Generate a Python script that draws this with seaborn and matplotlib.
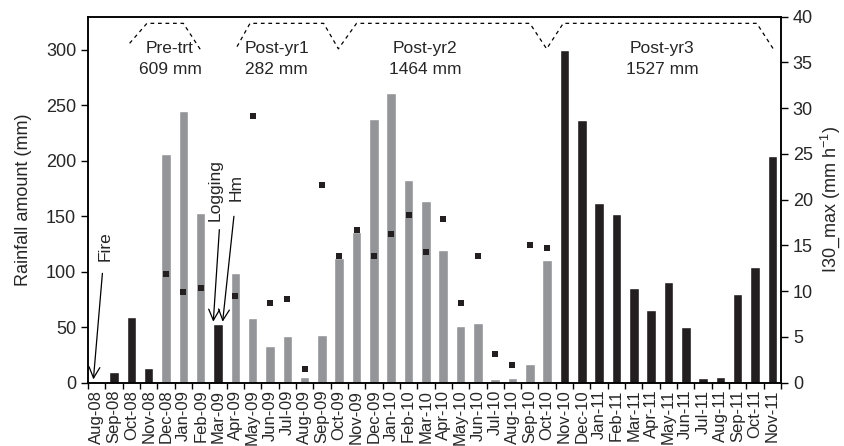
import matplotlib
matplotlib.use("Agg")
import matplotlib.pyplot as plt
import numpy as np
import pandas as pd
import seaborn as sns

# Monthly data, Aug-08 .. Nov-11
months = ['Aug-08', 'Sep-08', 'Oct-08', 'Nov-08', 'Dec-08', 'Jan-09', 'Feb-09', 'Mar-09',
          'Apr-09', 'May-09', 'Jun-09', 'Jul-09', 'Aug-09', 'Sep-09', 'Oct-09', 'Nov-09',
          'Dec-09', 'Jan-10', 'Feb-10', 'Mar-10', 'Apr-10', 'May-10', 'Jun-10', 'Jul-10',
          'Aug-10', 'Sep-10', 'Oct-10', 'Nov-10', 'Dec-10', 'Jan-11', 'Feb-11', 'Mar-11',
          'Apr-11', 'May-11', 'Jun-11', 'Jul-11', 'Aug-11', 'Sep-11', 'Oct-11', 'Nov-11']
rainfall = [0, 10, 59, 13, 206, 245, 153, 53,
            99, 58, 33, 42, 5, 43, 112, 136,
            238, 261, 183, 164, 120, 51, 54, 3,
            4, 17, 111, 300, 237, 162, 152, 85,
            66, 91, 50, 4, 5, 80, 104, 204]
# bar shading: 'd' = dark bars, 'g' = grey bars
shade = ['d', 'd', 'd', 'd', 'g', 'g', 'g', 'd',
         'g', 'g', 'g', 'g', 'g', 'g', 'g', 'g',
         'g', 'g', 'g', 'g', 'g', 'g', 'g', 'g',
         'g', 'g', 'g', 'd', 'd', 'd', 'd', 'd',
         'd', 'd', 'd', 'd', 'd', 'd', 'd', 'd']
nan = np.nan
i30_max = [nan, nan, nan, nan, 11.9, 9.9, 10.4, nan,
           9.5, 29.1, 8.7, 9.1, 1.5, 21.6, 13.9, 16.7,
           13.9, 16.3, 18.3, 14.3, 17.9, 8.7, 13.9, 3.1,
           1.9, 15.1, 14.7, nan, nan, nan, nan, nan,
           nan, nan, nan, nan, nan, nan, nan, nan]

periods = ['Pre-trt\n609 mm', 'Post-yr1\n282 mm', 'Post-yr2\n1464 mm', 'Post-yr3\n1527 mm']

df = pd.DataFrame({'month': months, 'rain': rainfall, 'shade': shade, 'i30': i30_max})
df['pos'] = np.arange(len(df))

sns.set_style('ticks')
plt.rcParams['font.family'] = ['Liberation Sans', 'DejaVu Sans']
plt.rcParams['mathtext.fontset'] = 'custom'
plt.rcParams['mathtext.rm'] = 'Liberation Sans'
plt.rcParams['mathtext.default'] = 'regular'

dark = '#231f20'
grey = '#939598'

fig = plt.figure(figsize=(8.44, 4.46), dpi=100)
ax = fig.add_axes([0.1043, 0.1419, 0.8211, 0.8207])

sns.barplot(data=df, x='month', y='rain', hue='shade', palette={'d': dark, 'g': grey},
            dodge=False, width=0.55, legend=False, ax=ax, saturation=1)

ax2 = ax.twinx()
sns.scatterplot(data=df, x='pos', y='i30', marker='s', color=dark, s=24,
                edgecolor=dark, linewidth=0, ax=ax2, zorder=5)

ax.set_xlim(-0.5, len(months) - 0.5)
ax.set_ylim(0, 330)
ax2.set_ylim(0, 40)
ax.set_yticks(range(0, 301, 50))
ax2.set_yticks(range(0, 41, 5))

# month labels centred, tick marks between bars
ax.set_xticks(df['pos'])
ax.set_xticklabels(months, rotation=90, fontsize=12)
ax.set_xticks(np.arange(-0.5, len(months), 1), minor=True)
ax.tick_params(axis='x', which='major', length=0, pad=5)
ax.tick_params(axis='x', which='minor', length=4, width=1, color='black', direction='out')
ax.tick_params(axis='y', labelsize=13, length=5, width=1, color='black', direction='out')
ax2.tick_params(axis='y', labelsize=13, length=5, width=1, color='black', direction='out')

ax.set_xlabel('')
ax.set_ylabel('Rainfall amount (mm)', fontsize=13, labelpad=10)
ax2.set_ylabel('I30_max (mm h$^{-1}$)', fontsize=13, labelpad=4)

for a in (ax, ax2):
    for sp in a.spines.values():
        sp.set_visible(True)
        sp.set_color('black')
        sp.set_linewidth(1.1)

# dashed period brackets
dash = dict(color='black', lw=0.9, linestyle=(0, (3, 3)))
ax.plot([1.9, 2.9, 5.0, 6.0], [306, 324, 324, 300], **dash)
ax.plot([8.1, 8.85, 13.1, 13.95, 15.0, 25.0, 25.97, 26.93, 38.1, 39.05],
        [303, 324, 324, 301, 324, 324, 301, 324, 324, 301], **dash)

for xp, label in zip([4.23, 10.39, 18.95, 32.65], periods):
    ax.text(xp, 292, label, ha='center', va='center', fontsize=12.5, linespacing=1.45)

# event annotations
arrow = dict(arrowstyle='->,head_length=0.6,head_width=0.3', color='black', lw=0.9,
             shrinkA=0, shrinkB=0)
ax.annotate('', xy=(-0.19, 3), xytext=(0.33, 98.6), arrowprops=arrow, fontsize=13)
ax.text(0.48, 123, 'Fire', rotation=90, ha='center', va='center', fontsize=12.5)
ax.annotate('', xy=(6.73, 55), xytext=(7.08, 138), arrowprops=arrow, fontsize=13)
ax.text(6.86, 174, 'Logging', rotation=90, ha='center', va='center', fontsize=12.5)
ax.annotate('', xy=(7.27, 55), xytext=(7.92, 150), arrowprops=arrow, fontsize=13)
ax.text(8.04, 176, 'Hm', rotation=90, ha='center', va='center', fontsize=12.5)

fig.savefig('out.png', dpi=100)
